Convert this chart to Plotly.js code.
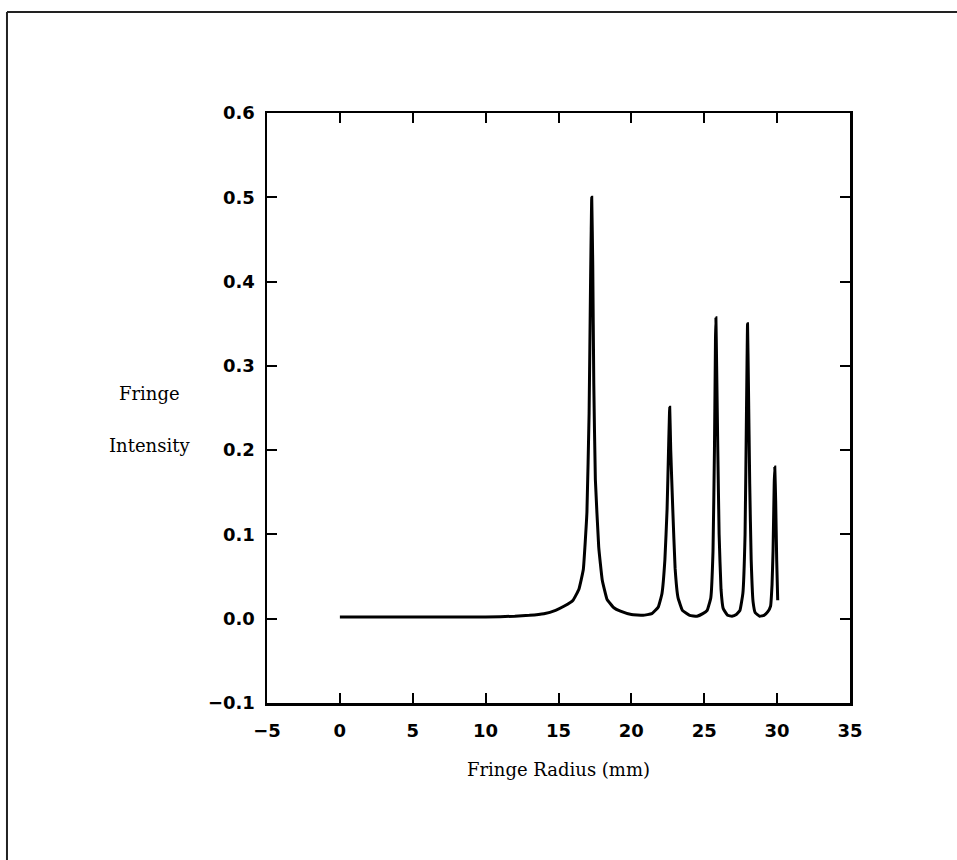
<!DOCTYPE html>
<html>
<head>
<meta charset="utf-8">
<script src="https://cdn.plot.ly/plotly-3.0.1.min.js"></script>
<style>html,body{margin:0;padding:0;background:#fff;}</style>
</head>
<body>
<div id="chart" style="width:957px;height:860px;"></div>
<script>
// Fringe radius (mm) and fringe intensity
var radius = [0, 2, 4, 6, 8, 10, 12, 13, 14, 14.8, 15.4, 16.0, 16.4, 16.7, 16.95, 17.1, 17.2, 17.28, 17.35, 17.42, 17.53, 17.76, 18.0, 18.33, 18.8, 19.25, 20.0, 20.8, 21.4,
  21.85, 22.1, 22.3, 22.45, 22.55, 22.63, 22.7, 22.84, 23.0, 23.2, 23.5, 24.0, 24.5, 24.9,
  25.2, 25.45, 25.6, 25.7, 25.77, 25.8, 25.85, 25.93, 26.02, 26.15, 26.3, 26.6, 26.9, 27.2,
  27.45, 27.65, 27.8, 27.9, 27.97, 28.03, 28.12, 28.22, 28.35, 28.5, 28.8, 29.1, 29.35,
  29.55, 29.65, 29.72, 29.8, 29.84, 29.9, 29.97, 30.04];
var intensity = [0.002, 0.002, 0.002, 0.002, 0.002, 0.002, 0.003, 0.004, 0.006, 0.010, 0.015, 0.022, 0.035, 0.058, 0.126, 0.244, 0.40, 0.50, 0.42, 0.28, 0.165, 0.085, 0.046, 0.023, 0.013, 0.009, 0.005, 0.004, 0.006,
  0.014, 0.030, 0.070, 0.130, 0.200, 0.251, 0.200, 0.130, 0.060, 0.025, 0.010, 0.004, 0.003, 0.006,
  0.010, 0.025, 0.080, 0.200, 0.330, 0.357, 0.300, 0.200, 0.100, 0.035, 0.012, 0.004, 0.003, 0.005,
  0.010, 0.030, 0.100, 0.250, 0.350, 0.280, 0.160, 0.070, 0.020, 0.007, 0.003, 0.004, 0.008,
  0.015, 0.040, 0.080, 0.160, 0.180, 0.140, 0.070, 0.022];

var xTickVals = [-5, 0, 5, 10, 15, 20, 25, 30, 35];
var yTickVals = [-0.1, 0.0, 0.1, 0.2, 0.3, 0.4, 0.5, 0.6];

var tickFont = {family: 'DejaVu Sans', size: 18, color: '#000', weight: 'bold'};
var serif = {family: 'DejaVu Serif', size: 18, color: '#000'};

var trace = {
  x: radius, y: intensity, type: 'scatter', mode: 'lines',
  line: {color: '#000', width: 3, shape: 'spline', smoothing: 0.3},
  hoverinfo: 'skip'
};

var layout = {
  width: 957, height: 860,
  margin: {l: 267, r: 107, t: 113, b: 157},
  paper_bgcolor: '#fff', plot_bgcolor: '#fff',
  showlegend: false,
  xaxis: {
    range: [-5, 35], tickvals: xTickVals, ticks: 'inside', ticklen: 10, tickwidth: 2, tickcolor: '#000',
    showline: true, linewidth: 2.5, linecolor: '#000', mirror: 'ticks',
    showgrid: false, zeroline: false, tickfont: tickFont, ticklabelstandoff: 10,
    title: {text: 'Fringe Radius (mm)', font: serif, standoff: 24}
  },
  yaxis: {
    range: [-0.1, 0.6], tickvals: yTickVals, tickformat: '.1f', ticks: 'inside', ticklen: 10, tickwidth: 2, tickcolor: '#000',
    showline: true, linewidth: 2.5, linecolor: '#000', mirror: 'ticks',
    showgrid: false, zeroline: false, tickfont: tickFont, ticklabelstandoff: 6
  },
  annotations: [
    {xref: 'paper', yref: 'paper', x: -0.2007, y: 0.525, text: 'Fringe', showarrow: false, font: serif, xanchor: 'center', yanchor: 'middle'},
    {xref: 'paper', yref: 'paper', x: -0.2007, y: 0.437, text: 'Intensity', showarrow: false, font: serif, xanchor: 'center', yanchor: 'middle'}
  ],
  shapes: [
    {type: 'line', xref: 'paper', yref: 'paper', x0: -0.446, x1: 1.2, y0: 1.1712, y1: 1.1712, line: {color: '#222', width: 2}},
    {type: 'line', xref: 'paper', yref: 'paper', x0: -0.446, x1: -0.446, y0: 1.1712, y1: -0.3, line: {color: '#222', width: 2}}
  ]
};

Plotly.newPlot('chart', [trace], layout, {displayModeBar: false, staticPlot: true});
</script>
</body>
</html>
